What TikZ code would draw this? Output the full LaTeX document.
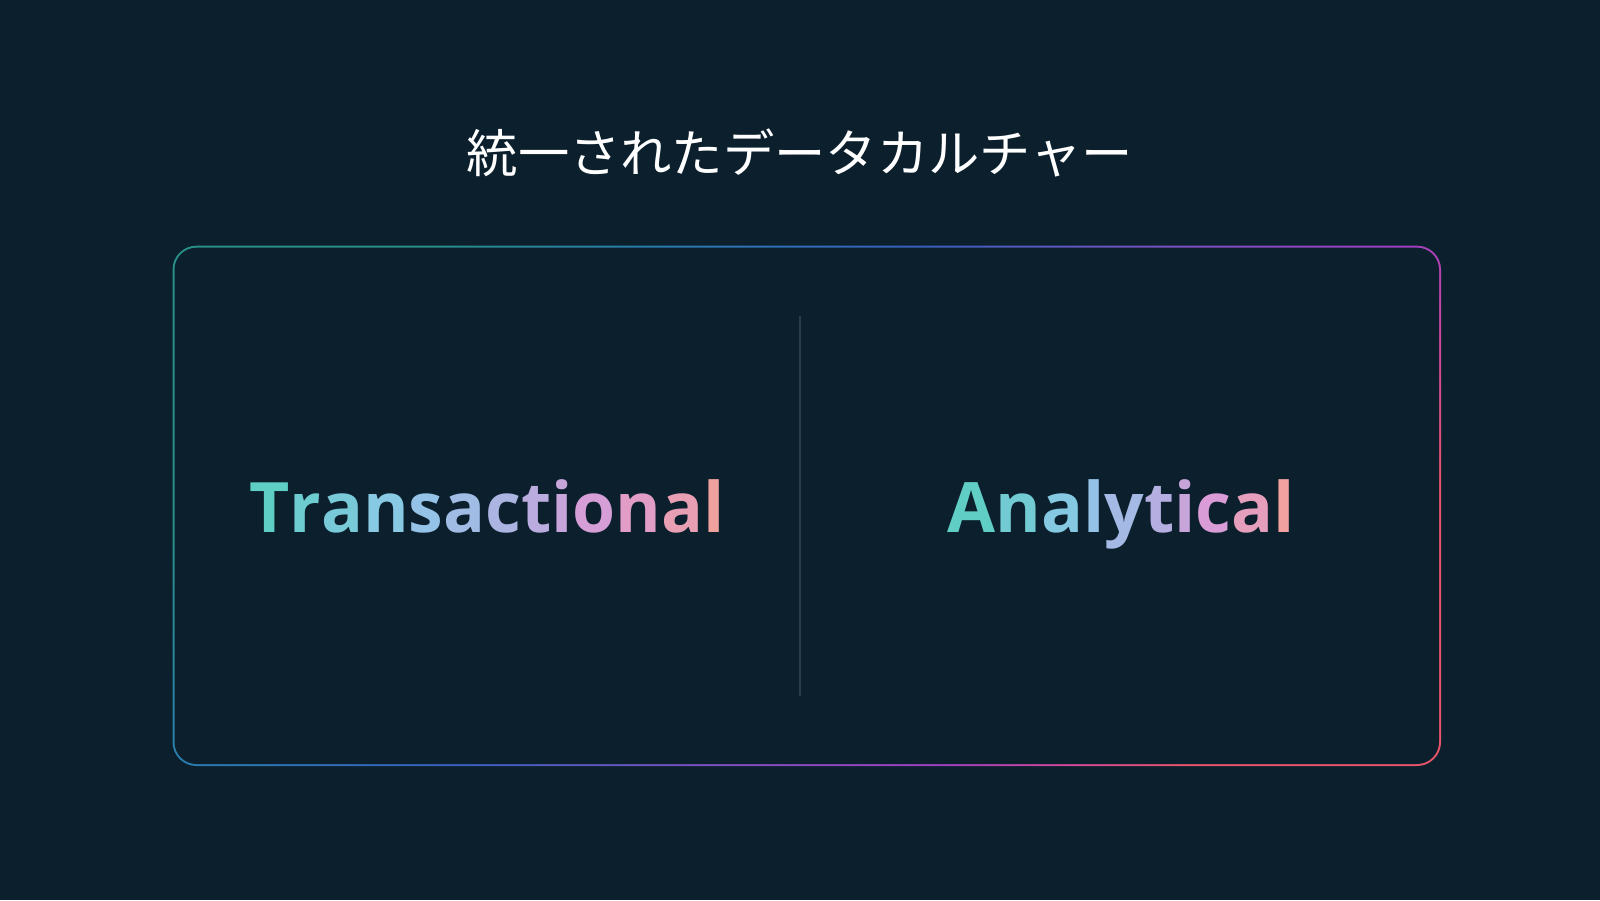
\documentclass[tikz,border=0pt]{standalone}
\usepackage{fontspec}
\setmainfont{Open Sans}
\newfontfamily\jpfont{Noto Sans CJK JP}

\definecolor{bgnavy}{HTML}{0B1F2D}
\definecolor{divgray}{HTML}{2B3B4B}
% frame colours
\definecolor{frA}{HTML}{2A8E88}
\definecolor{frB}{HTML}{2A7AB0}
\definecolor{frC}{HTML}{3860BC}
\definecolor{frD}{HTML}{8050C0}
\definecolor{frE}{HTML}{A040C0}
\definecolor{frF}{HTML}{D0489A}
\definecolor{frG}{HTML}{E8546A}
% text colours
\definecolor{gA}{HTML}{58CFBF}
\definecolor{gB}{HTML}{8DC8E8}
\definecolor{gC}{HTML}{B4AFE0}
\definecolor{gD}{HTML}{DA9CD6}
\definecolor{gE}{HTML}{F6A292}

\pgfdeclarehorizontalshading{frameglow}{100bp}{color(0bp)=(frA); color(25bp)=(frA);
  color(35bp)=(frB); color(45bp)=(frC); color(56bp)=(frD); color(65bp)=(frE);
  color(70bp)=(frF); color(75bp)=(frG); color(100bp)=(frG)}

\newcommand\gradletters[1]{\foreach \ch/\col in {#1}{\textcolor{\col}{\ch}}}

\begin{document}
\begin{tikzpicture}
  [bigword/.style={anchor=base,inner sep=0pt,font=\bfseries\fontsize{19.8}{24}\selectfont},
   title/.style={text=white,inner sep=0pt,font=\jpfont\fontsize{14.6}{18}\selectfont},
   divline/.style={divgray,line width=0.6pt},
]
  \fill[bgnavy] (0,0) rectangle (16,9);

  % frame
  \shade[shading=frameglow,shading angle=-42,rounded corners=0.24cm]
    (1.725,1.34) rectangle (14.41,6.543);
  \fill[bgnavy,rounded corners=0.22cm] (1.745,1.36) rectangle (14.39,6.523);

  \node[title] (heading) at (8,7.47) {統一されたデータカルチャー};

  \coordinate (divtop) at (8,5.84);
  \coordinate (divbot) at (8,2.04);
  \draw[divline] (divtop) -- (divbot);

  \node[bigword] (trans) at (4.87,3.68) {\gradletters{T/gA!87!gB,r/gA!60!gB,a/gA!37!gB,n/gA!10!gB,
    s/gB!80!gC,a/gB!52!gC,c/gB!20!gC,t/gC!85!gD,i/gC!50!gD,o/gC!10!gD,n/gD!76!gE,a/gD!48!gE,l/gD!16!gE}};
  \node[bigword] (anal) at (11.21,3.68) {\gradletters{A/gA!83!gB,n/gA!50!gB,a/gA!17!gB,l/gB!80!gC,
    y/gB!40!gC,t/gC,i/gC!50!gD,c/gD,a/gD!60!gE,l/gD!20!gE}};
\end{tikzpicture}
\end{document}
